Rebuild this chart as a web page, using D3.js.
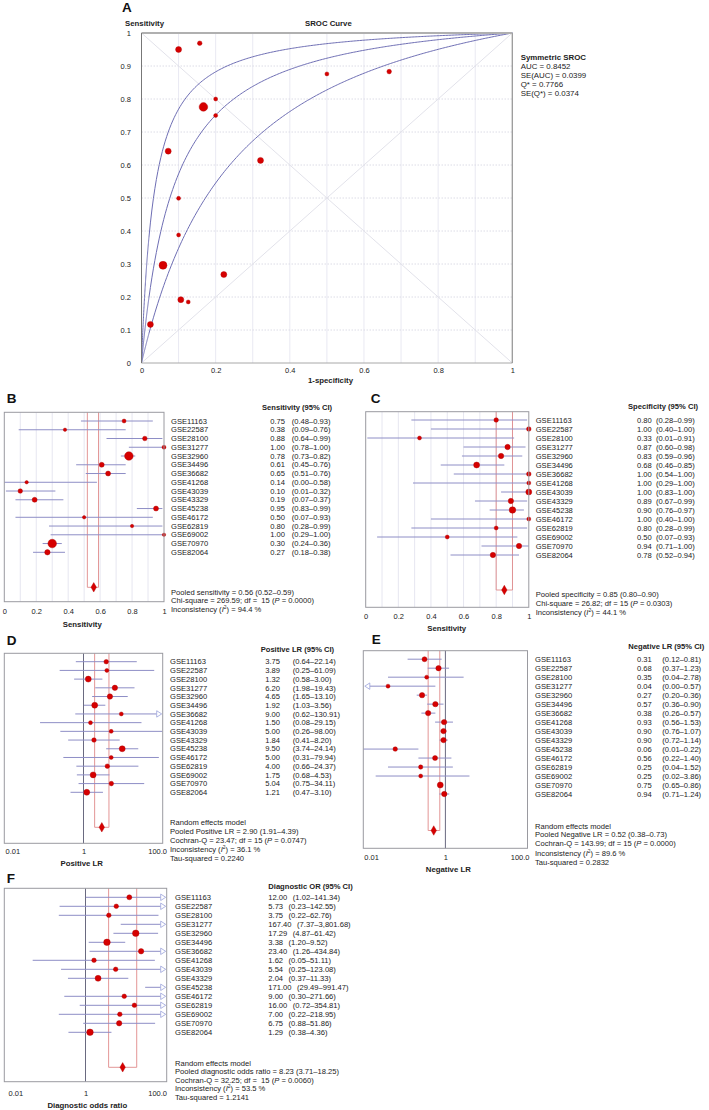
<!DOCTYPE html>
<html><head><meta charset="utf-8">
<script src="https://cdn.jsdelivr.net/npm/d3@7"></script>
<style>
body{margin:0;background:#fff;}
svg{display:block;font-family:"Liberation Sans",Arial,sans-serif;}
text{white-space:pre;}
</style></head><body>
<svg id="c" width="709" height="1110"></svg>
<script>
// ---------------- DATA ----------------
const studies = ["GSE11163","GSE22587","GSE28100","GSE31277","GSE32960","GSE34496","GSE36682","GSE41268",
                 "GSE43039","GSE43329","GSE45238","GSE46172","GSE62819","GSE69002","GSE70970","GSE82064"];

const sensVal = [0.75,0.38,0.88,1.00,0.78,0.61,0.65,0.14,0.10,0.19,0.95,0.50,0.80,1.00,0.30,0.27];
const sensLo  = [0.48,0.09,0.64,0.78,0.73,0.45,0.51,0.00,0.01,0.07,0.83,0.07,0.28,0.29,0.24,0.18];
const sensHi  = [0.93,0.76,0.99,1.00,0.82,0.76,0.76,0.58,0.32,0.37,0.99,0.93,0.99,1.00,0.36,0.38];
const sensW   = [4,2.9,5.3,4,18.5,6.3,6.3,2.9,5.3,6.3,6.3,2.9,2.9,2.9,18.5,7.3];

const specVal = [0.80,1.00,0.33,0.87,0.83,0.68,1.00,1.00,1.00,0.89,0.90,1.00,0.80,0.50,0.94,0.78];
const specLo  = [0.28,0.40,0.01,0.60,0.59,0.46,0.54,0.29,0.83,0.67,0.76,0.40,0.28,0.07,0.71,0.52];
const specHi  = [0.99,1.00,0.91,0.98,0.96,0.85,1.00,1.00,1.00,0.99,0.97,1.00,0.99,0.93,1.00,0.94];
const specW   = [5.3,5.3,4,7.3,7.3,9,5.3,4,9,7.3,10.9,4,4,4,7.3,7.3];

const plrVal = [3.75,3.89,1.32,6.20,4.65,1.92,9.00,1.50,5.00,1.84,9.50,5.00,4.00,1.75,5.04,1.21];
const plrLo  = [0.64,0.25,0.58,1.98,1.65,1.03,0.62,0.08,0.26,0.41,3.74,0.31,0.66,0.68,0.75,0.47];
const plrHi  = [22.14,61.09,3.00,19.43,13.10,3.56,130.91,29.15,98.00,8.20,24.14,79.94,24.37,4.53,34.11,3.10];
const plrW   = [5.3,4,9,7.3,7.3,9,4,4,4,5.3,9,4,5.3,9,5.3,9];

const nlrVal = [0.31,0.68,0.35,0.04,0.27,0.57,0.38,0.93,0.90,0.90,0.06,0.56,0.25,0.25,0.75,0.94];
const nlrLo  = [0.12,0.37,0.04,0.00,0.20,0.36,0.26,0.56,0.76,0.72,0.01,0.22,0.04,0.02,0.65,0.71];
const nlrHi  = [0.81,1.23,2.78,0.57,0.36,0.90,0.57,1.53,1.07,1.14,0.22,1.40,1.52,3.86,0.86,1.24];
const nlrW   = [6.3,7.3,4,4,7.3,7.3,7.3,7.3,7.3,7.3,5.3,6.3,4.8,4,9,7.3];

const dorVal = [12.00,5.73,3.75,167.40,17.29,3.38,23.40,1.62,5.54,2.04,171.00,9.00,16.00,7.00,6.75,1.29];
const dorLo  = [1.02,0.23,0.22,7.37,4.87,1.20,1.26,0.05,0.25,0.37,29.49,0.30,0.72,0.22,0.88,0.38];
const dorHi  = [141.34,142.55,62.76,3801.68,61.42,9.52,434.84,51.11,123.08,11.33,991.47,271.66,354.81,218.95,51.86,4.36];
const dorW   = [6.3,5.3,5.3,4,10.9,10.9,7.3,5.3,5.3,9,6.3,5.3,5.3,5.3,7.3,10.9];

// SROC scatter (1-specificity, sensitivity, weight)
const srocFpr  = [0.100,0.157,0.200,0.167,0.200,0.072,0.321,0.100,0.100,0.058,0.500,0.668,0.222,0.106,0.126,0.024];
const srocSens = [0.950,0.969,0.800,0.776,0.750,0.642,0.614,0.499,0.388,0.296,0.876,0.883,0.268,0.192,0.185,0.117];
const srocW    = [9,5.3,4,18.5,4,9,9,4,4,16,4,5.3,9,9,4,9];
const srocDOR  = [30, 12.08, 4.8];   // upper, symmetric SROC, lower
const srocLegend = ["Symmetric SROC","AUC = 0.8452","SE(AUC) = 0.0399","Q* = 0.7766","SE(Q*) = 0.0374"];

const pooled = {
  sens:[0.56,0.52,0.59], spec:[0.85,0.80,0.90], plr:[2.90,1.91,4.39], nlr:[0.52,0.38,0.73], dor:[8.23,3.71,18.25]
};
const statsSens = ["Pooled sensitivity = 0.56 (0.52–0.59)","Chi-square = 269.59; df =  15 (_P_ = 0.0000)","Inconsistency (_I_^2^) = 94.4 %"];
const statsSpec = ["Pooled specificity = 0.85 (0.80–0.90)","Chi-square = 26.82; df = 15 (_P_ = 0.0303)","Inconsistency (_I_^2^) = 44.1 %"];
const statsPlr = ["Random effects model","Pooled Positive LR = 2.90 (1.91–4.39)","Cochran-Q = 23.47; df = 15 (_P_ = 0.0747)","Inconsistency (_I_^2^) = 36.1 %","Tau-squared = 0.2240"];
const statsNlr = ["Random effects model","Pooled Negative LR = 0.52 (0.38–0.73)","Cochran-Q = 143.99; df = 15 (_P_ = 0.0000)","Inconsistency (_I_^2^) = 89.6 %","Tau-squared = 0.2832"];
const statsDor = ["Random effects model","Pooled diagnostic odds ratio = 8.23 (3.71–18.25)","Cochran-Q = 32.25; df =  15 (_P_ = 0.0060)","Inconsistency (_I_^2^) = 53.5 %","Tau-squared = 1.2141"];
const linTicks = [0,0.2,0.4,0.6,0.8,1];
const logTicks = [0.01,1,100];
const logTickLabels = ["0.01","1","100.0"];

// ---------------- DRAW ----------------
const FONT = '"Liberation Sans",Arial,sans-serif';
const TXT = "#222";
const RED = "#d60000";
const CI = "#8e8ec6";
const BRK = "#e08a8a";
const svg = d3.select("#c");
svg.append("rect").attr("width",709).attr("height",1110).attr("fill","#fff");
const rScale = d3.scaleSqrt().domain([0,20]).range([0,4.47]);

function rich(g, x, y, s, fs, opts={}){
  const t = g.append("text").attr("x",x).attr("y",y).attr("font-size",fs).attr("fill",TXT)
    .attr("font-weight",opts.bold?"bold":null).attr("text-anchor",opts.anchor||"start");
  const parts = s.split(/(_[^_]+_|\^[^^]+\^)/).filter(p=>p.length);
  let shift = 0;
  parts.forEach(p=>{
    let ts;
    if(p[0]==="_" && p.length>2){ ts=t.append("tspan").attr("font-style","italic").text(p.slice(1,-1)); if(shift){ts.attr("dy",-shift);shift=0;} }
    else if(p[0]==="^" && p.length>2){ ts=t.append("tspan").attr("font-size",fs*0.65).attr("dy",-3).text(p.slice(1,-1)); shift=-3; }
    else { ts=t.append("tspan").text(p); if(shift){ts.attr("dy",-shift);shift=0;} }
  });
  return t;
}
function letter(l,x,y){
  svg.append("text").attr("x",x).attr("y",y).attr("font-size",13.5).attr("font-weight","bold").attr("fill","#111").text(l);
}

// ===== Panel A: SROC =====
letter("A",122,11.7);
const sx = d3.scaleLinear().domain([0,1]).range([141.5,512.3]);
const sy = d3.scaleLinear().domain([0,1]).range([363,33]);
const gA = svg.append("g");
sx.ticks(10).filter(v=>v>0&&v<1).forEach(v=>{
  gA.append("line").attr("x1",sx(v)).attr("x2",sx(v)).attr("y1",sy(0)).attr("y2",sy(1)).attr("stroke","#e9e9f2").attr("stroke-width",1);
});
sy.ticks(10).filter(v=>v>0&&v<1).forEach(v=>{
  gA.append("line").attr("x1",sx(0)).attr("x2",sx(1)).attr("y1",sy(v)).attr("y2",sy(v)).attr("stroke","#dcdce6").attr("stroke-width",1).attr("stroke-dasharray","1.5,1.5");
});
gA.append("line").attr("x1",sx(0)).attr("y1",sy(1)).attr("x2",sx(1)).attr("y2",sy(0)).attr("stroke","#e2e2ea");
gA.append("line").attr("x1",sx(0)).attr("y1",sy(0)).attr("x2",sx(1)).attr("y2",sy(1)).attr("stroke","#e2e2ea");
const fprGrid = d3.range(0,0.02,0.0002).concat(d3.range(0.02,1.00001,0.004));
const curve = d3.line().x(d=>sx(d[0])).y(d=>sy(d[1]));
srocDOR.forEach(D=>{
  const pts = fprGrid.map(f=> f===0?[0,0]:[f, 1/(1+(1-f)/(f*D))]).concat([[1,1]]);
  gA.append("path").attr("d",curve(pts)).attr("fill","none").attr("stroke","#6e6eb4").attr("stroke-width",1);
});
// frame
gA.append("line").attr("x1",sx(0)).attr("x2",sx(1)).attr("y1",sy(0)).attr("y2",sy(0)).attr("stroke","#a8a8a8");
gA.append("line").attr("x1",sx(1)).attr("x2",sx(1)).attr("y1",sy(0)).attr("y2",sy(1)).attr("stroke","#999").attr("stroke-width",1.3);
gA.append("line").attr("x1",sx(0)).attr("x2",sx(1)).attr("y1",sy(1)).attr("y2",sy(1)).attr("stroke","#b0b0b0").attr("stroke-width",2);
gA.append("line").attr("x1",sx(0)).attr("x2",sx(0)).attr("y1",sy(0)).attr("y2",sy(1)).attr("stroke","#777").attr("stroke-width",1);
// points
srocFpr.forEach((f,i)=>{
  gA.append("circle").attr("cx",sx(f)).attr("cy",sy(srocSens[i])).attr("r",rScale(srocW[i])).attr("fill",RED).attr("stroke","#b00000").attr("stroke-width",0.4);
});
// axes
const ay = gA.append("g").attr("transform",`translate(${sx(0)},0)`)
  .call(d3.axisLeft(sy).tickValues(sy.ticks(10)).tickSize(0).tickPadding(10.5).tickFormat(d3.format("~g")));
ay.select(".domain").remove();
ay.selectAll("text").attr("font-size",7.5).attr("font-family",FONT).attr("fill",TXT);
const ax = gA.append("g").attr("transform",`translate(0,${sy(0)})`)
  .call(d3.axisBottom(sx).tickValues(linTicks).tickSize(0).tickFormat(d3.format("~g")));
ax.select(".domain").remove();
ax.selectAll("text").attr("y",10.3).attr("dy",null).attr("font-size",7.5).attr("font-family",FONT).attr("fill",TXT);
rich(gA,125,26,"Sensitivity",7.8,{bold:true});
rich(gA,305,26,"SROC Curve",7.8,{bold:true});
rich(gA,330.5,383.3,"1-specificity",7.8,{bold:true,anchor:"middle"});
srocLegend.forEach((s,i)=>rich(gA,520.7,60+i*9,s,7.9,{bold:i===0}));

// ===== Forest panels =====
function forest(c){
  const g = svg.append("g");
  const x = c.log ? d3.scaleLog().domain([0.01,100]).range([c.x0,c.x1])
                  : d3.scaleLinear().domain([0,1]).range([c.x0,c.x1]);
  const y = d3.scalePoint().domain(studies).range([c.r0,c.rN]);
  const [dmin,dmax] = x.domain();
  if(!c.log){
    x.ticks(10).filter(v=>v>0&&v<1).forEach(v=>{
      g.append("line").attr("x1",x(v)).attr("x2",x(v)).attr("y1",c.y0).attr("y2",c.y1).attr("stroke","#e6e6f0");
    });
  } else {
    g.append("line").attr("x1",x(1)).attr("x2",x(1)).attr("y1",c.y0).attr("y2",c.y1).attr("stroke","#6a6a80").attr("stroke-width",1);
  }
  // pooled bracket
  const [pv,pl,ph] = c.pooled;
  g.append("path").attr("d",`M${x(pl)},${c.y0}V${c.dy}H${x(ph)}V${c.y0}`).attr("fill","none").attr("stroke",BRK).attr("stroke-width",0.9);
  // CIs
  studies.forEach((s,i)=>{
    const yy = y(s);
    const lo = c.lo[i], hi = c.hi[i];
    const leftArrow = c.log && (lo<=0 || lo<dmin);
    const rightArrow = hi>dmax;
    let xa = (lo<=0||lo<dmin) ? c.x0 : x(lo);
    let xb = hi>dmax ? c.x1 : x(hi);
    if(leftArrow) xa = c.x0+6;
    if(rightArrow && c.log) xb = c.x1-6;
    g.append("line").attr("x1",xa).attr("x2",xb).attr("y1",yy).attr("y2",yy).attr("stroke",CI).attr("stroke-width",1);
    if(rightArrow && c.log){
      const t=c.x1-1;
      g.append("path").attr("d",`M${t-5},${yy-3.2}L${t},${yy}L${t-5},${yy+3.2}Z`).attr("fill","#fff").attr("stroke","#9aa2da").attr("stroke-width",0.8);
    }
    if(leftArrow){
      const t=c.x0+1.5;
      g.append("path").attr("d",`M${t+5},${yy-3.2}L${t},${yy}L${t+5},${yy+3.2}Z`).attr("fill","#fff").attr("stroke","#9aa2da").attr("stroke-width",0.8);
    }
    const v = c.val[i];
    if(v>=dmin && v<=dmax){
      g.append("circle").attr("cx",x(v)).attr("cy",yy).attr("r",rScale(c.w[i])).attr("fill",RED).attr("stroke","#a80000").attr("stroke-width",0.4);
    }
    // text columns
    rich(g,c.labelX,yy+2.7,s,7.6);
    const f = d3.format(",.2f");
    const ciTxt = `(${f(lo)}–${f(hi)})`;
    if(c.valLeft){
      const tv = rich(g,c.valLeft,yy+2.7,f(v),7.6);
      const w = tv.node().getComputedTextLength();
      rich(g,c.valLeft+w+5.5,yy+2.7,ciTxt,7.6);
    } else {
      rich(g,c.valRight,yy+2.7,f(v),7.6,{anchor:"end"});
      rich(g,c.ciX,yy+2.7,ciTxt,7.6);
    }
  });
  // pooled diamond
  g.append("path").attr("d",d3.symbol(d3.symbolDiamond,26)()).attr("transform",`translate(${x(pv)},${c.dy})`).attr("fill",RED).attr("stroke","#b00000").attr("stroke-width",0.4);
  // frame
  g.append("rect").attr("x",c.x0).attr("y",c.y0).attr("width",c.x1-c.x0).attr("height",c.y1-c.y0).attr("fill","none").attr("stroke","#9a9aa0").attr("stroke-width",1);
  // axis
  const axis = d3.axisBottom(x).tickSize(0);
  if(c.log) axis.tickValues(logTicks).tickFormat((d,i)=>logTickLabels[i]);
  else axis.tickValues(linTicks).tickFormat(d3.format("~g"));
  const ga = g.append("g").attr("transform",`translate(0,${c.y1})`).call(axis);
  ga.select(".domain").remove();
  ga.selectAll("text").attr("y",c.tickBase-c.y1).attr("dy",null).attr("font-size",7.5).attr("font-family",FONT).attr("fill",TXT);
  if(c.log){
    const tx = ga.selectAll("text").nodes();
    d3.select(tx[0]).attr("text-anchor","start").attr("x",c.logShift[0]-x(logTicks[0]));
    d3.select(tx[tx.length-1]).attr("text-anchor","end").attr("x",c.logShift[1]-x(logTicks[logTicks.length-1]));
  }
  rich(g,c.titleX,c.titleY,c.title,7.8,{bold:true,anchor:"middle"});
  rich(g,c.headX,c.headY,c.head,7.6,{bold:true});
  c.stats.forEach((s,i)=>rich(g,c.labelX,c.statY[i],s,7.6));
}

letter("B",6.7,403.3);
forest({x0:4.3,x1:164,y0:412.3,y1:601.7,r0:421,rN:552.3,dy:587.3,log:false,
  val:sensVal,lo:sensLo,hi:sensHi,w:sensW,pooled:pooled.sens,
  labelX:171,valRight:285,ciX:291.7,tickBase:614.5,title:"Sensitivity",titleX:82.3,titleY:627.3,
  head:"Sensitivity (95% CI)",headX:262,headY:409.5,stats:statsSens,statY:[594.5,603.2,611.9]});

letter("C",370.7,403.3);
forest({x0:365.7,x1:528.8,y0:411.7,y1:607.3,r0:420,rN:555,dy:590,log:false,
  val:specVal,lo:specLo,hi:specHi,w:specW,pooled:pooled.spec,
  labelX:535.7,valRight:651.7,ciX:656,tickBase:618.7,title:"Sensitivity",titleX:446.7,titleY:630.5,
  head:"Specificity (95% CI)",headX:628,headY:408.8,stats:statsSpec,statY:[597.1,605.8,614.8]});

letter("D",6.7,645);
forest({x0:4.3,x1:162.7,y0:653.3,y1:843.3,r0:661.7,rN:792.3,dy:827.3,log:true,
  val:plrVal,lo:plrLo,hi:plrHi,w:plrW,pooled:pooled.plr,logShift:[5,166.5],
  labelX:170,valRight:280,ciX:292.7,tickBase:854.5,title:"Positive LR",titleX:81.7,titleY:866,
  head:"Positive LR (95% CI)",headX:260.7,headY:651.8,stats:statsPlr,statY:[825.1,834.3,843.1,852.1,860.8]});

letter("E",371.7,644);
forest({x0:363.3,x1:527.5,y0:650.7,y1:848.3,r0:659.2,rN:794,dy:830.5,log:true,
  val:nlrVal,lo:nlrLo,hi:nlrHi,w:nlrW,pooled:pooled.nlr,logShift:[363.8,529],
  labelX:535,valRight:651.7,ciX:662.3,tickBase:860,title:"Negative LR",titleX:448.3,titleY:871.5,
  head:"Negative LR (95% CI)",headX:628.3,headY:648.6,stats:statsNlr,statY:[828.5,837.1,846.1,855.5,864.5]});

letter("F",6.7,883.3);
forest({x0:4.3,x1:166.7,y0:888.3,y1:1081.7,r0:897.3,rN:1032.3,dy:1067.3,log:true,
  val:dorVal,lo:dorLo,hi:dorHi,w:dorW,pooled:pooled.dor,logShift:[8,166.5],
  labelX:175,valLeft:268.3,tickBase:1096.5,title:"Diagnostic odds ratio",titleX:87.3,titleY:1108,
  head:"Diagnostic OR (95% CI)",headX:268.3,headY:888.8,stats:statsDor,statY:[1065.5,1073.5,1082.8,1091.1,1099.8]});
</script>
</body></html>
